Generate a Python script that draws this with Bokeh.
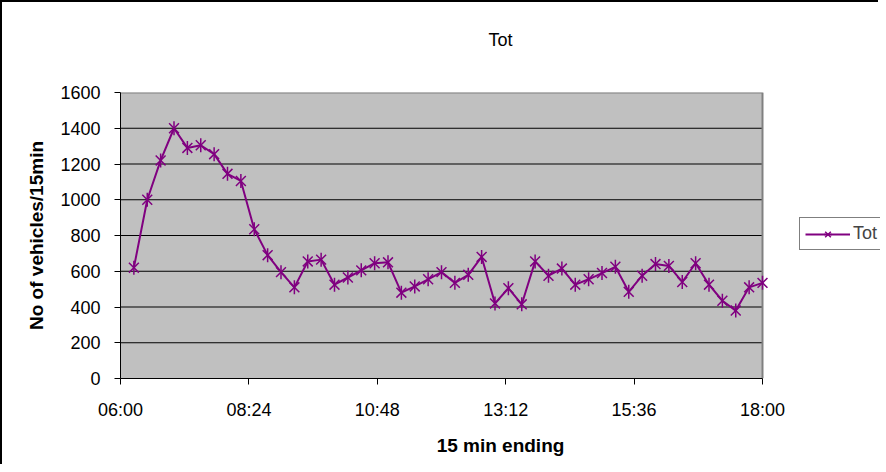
from bokeh.plotting import figure
from bokeh.models import (ColumnDataSource, FixedTicker, Legend, LegendItem, Range1d,
                          LinearAxis)
from bokeh.embed import file_html
from bokeh.resources import INLINE

# ---- data -------------------------------------------------------------
times = ["06:15", "06:30", "06:45", "07:00", "07:15", "07:30", "07:45", "08:00",
         "08:15", "08:30", "08:45", "09:00", "09:15", "09:30", "09:45", "10:00",
         "10:15", "10:30", "10:45", "11:00", "11:15", "11:30", "11:45", "12:00",
         "12:15", "12:30", "12:45", "13:00", "13:15", "13:30", "13:45", "14:00",
         "14:15", "14:30", "14:45", "15:00", "15:15", "15:30", "15:45", "16:00",
         "16:15", "16:30", "16:45", "17:00", "17:15", "17:30", "17:45", "18:00"]
tot = [620, 1000, 1220, 1400, 1290, 1305, 1255, 1145, 1105, 835, 690, 595,
       510, 655, 665, 525, 565, 605, 645, 650, 480, 515, 555, 595,
       535, 580, 680, 420, 505, 415, 655, 575, 615, 525, 555, 590,
       625, 485, 575, 640, 630, 540, 645, 525, 435, 380, 510, 535]
x_tick_labels = ["06:00", "08:24", "10:48", "13:12", "15:36", "18:00"]
y_ticks = [0, 200, 400, 600, 800, 1000, 1200, 1400, 1600]
series_name = "Tot"
title_text = "Tot"
x_title = "15 min ending"
y_title = "No of vehicles/15min"


def to_hours(s):
    h, m = s.split(":")
    return int(h) + int(m) / 60.0


hours = [to_hours(t) for t in times]
x_tick_pos = [to_hours(t) for t in x_tick_labels]
x0, x1 = x_tick_pos[0], x_tick_pos[-1]
y0, y1 = y_ticks[0], y_ticks[-1]

FONT = "Liberation Sans"
PURPLE = "#800080"

# plot-area pixel geometry: data area 642 px wide, frame runs on to the right
# edge so the legend (outside the grey area) can be drawn
AREA_W = 642
FRAME_W = 760
x_end = x0 + (x1 - x0) * FRAME_W / AREA_W

src = ColumnDataSource(dict(x=hours, y=tot))

p = figure(width=878, height=464, output_backend="svg", toolbar_location=None,
           x_range=Range1d(x0, x_end), y_range=Range1d(y0, y1),
           min_border_left=118, min_border_right=0,
           min_border_top=90, min_border_bottom=88)
p.styles = {"border-left": "2px solid #000000", "border-top": "2px solid #000000"}
p.background_fill_color = "#FFFFFF"
p.border_fill_color = "#FFFFFF"
p.outline_line_color = None
p.xgrid.grid_line_color = None
p.ygrid.grid_line_color = None

# grey plot area, gridlines and its border
p.quad(left=[x0], right=[x1], bottom=[y0], top=[y1], fill_color="#C0C0C0",
       line_color=None)
p.segment(x0=[x0] * (len(y_ticks) - 2), x1=[x1] * (len(y_ticks) - 2),
          y0=y_ticks[1:-1], y1=y_ticks[1:-1], line_color="#000000", line_width=1)
p.line([x0, x1, x1], [y1, y1, y0], line_color="#808080", line_width=2)

# title drawn as the label of a bare axis above the plot area
t_axis = LinearAxis(ticker=FixedTicker(ticks=[]), axis_label=title_text,
                    bounds=(x0, x1))
t_axis.axis_line_color = None
t_axis.major_tick_line_color = None
t_axis.minor_tick_line_color = None
t_axis.major_label_text_color = None
t_axis.axis_label_text_font = FONT
t_axis.axis_label_text_font_size = "18px"
t_axis.axis_label_text_font_style = "normal"
t_axis.axis_label_text_color = "#000000"
t_axis.axis_label_standoff = 43
p.add_layout(t_axis, "above")

xa = p.below[0]
ya = p.left[0]
xa.bounds = (x0, x1)
xa.ticker = FixedTicker(ticks=x_tick_pos)
xa.major_label_overrides = {pos: lab for pos, lab in zip(x_tick_pos, x_tick_labels)}
ya.ticker = FixedTicker(ticks=y_ticks)
for ax in (xa, ya):
    ax.axis_line_color = "#000000"
    ax.axis_line_width = 1
    ax.major_tick_line_color = "#000000"
    ax.major_tick_out = 6
    ax.major_tick_in = 0
    ax.minor_tick_line_color = None
    ax.major_label_text_font = FONT
    ax.major_label_text_font_size = "18px"
    ax.major_label_text_color = "#000000"
    ax.axis_label_text_font = FONT
    ax.axis_label_text_font_size = "19px"
    ax.axis_label_text_font_style = "bold"
    ax.axis_label_text_color = "#000000"

xa.axis_label = x_title
ya.axis_label = y_title
xa.major_label_standoff = 15
ya.major_label_standoff = 14
xa.axis_label_standoff = 12
ya.axis_label_standoff = 10

# series
r_line = p.line("x", "y", source=src, line_color=PURPLE, line_width=2)
r_x = p.scatter("x", "y", source=src, marker="x", size=14,
                line_color=PURPLE, line_width=1.5)
r_v = p.scatter("x", "y", source=src, marker="dash", angle=1.5707963, size=14,
                line_color=PURPLE, line_width=1.5)

legend = Legend(items=[LegendItem(label=series_name, renderers=[r_line, r_x, r_v])],
                location=(679, 128))
legend.label_text_font = FONT
legend.label_text_font_size = "18px"
legend.glyph_width = 45
legend.glyph_height = 20
legend.padding = 5
legend.margin = 0
legend.label_standoff = 3
legend.border_line_color = "#000000"
legend.border_line_width = 1
legend.background_fill_color = "#FFFFFF"
legend.background_fill_alpha = 1
p.add_layout(legend)

open("out.html", "w").write(file_html(p, INLINE))
